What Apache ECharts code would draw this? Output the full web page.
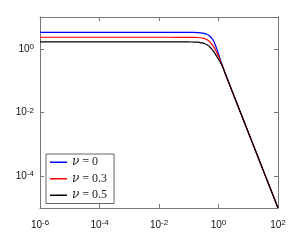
<!DOCTYPE html>
<html><head><meta charset="utf-8">
<script src="https://cdn.jsdelivr.net/npm/echarts@6/dist/echarts.min.js"></script>
<style>html,body{margin:0;padding:0;background:#fff}#c{width:308px;height:241px}</style>
</head><body><div id="c"></div>
<script>
// ---- data ----
const xValues = [1e-6, 1e-3, 0.01, 0.05, 0.1, 0.15, 0.2, 0.25, 0.3, 0.35, 0.4, 0.45, 0.5, 0.6, 0.7, 0.8, 0.9, 1.0, 1.1, 1.2, 1.35, 1.5, 1.75, 2, 3, 5, 10, 20, 50, 100];
const nu0   = [3.3, 3.3, 3.3, 3.295, 3.29, 3.27, 3.24, 3.18, 3.1, 2.99, 2.86, 2.7, 2.52, 2.12, 1.7, 1.25, 0.93, 0.7, 0.53, 0.41, 0.3, 0.229, 0.153, 0.112, 0.0422, 0.0125, 0.0024, 0.000461, 0.000052, 0.00001];
const nu03  = [2.31, 2.31, 2.31, 2.305, 2.3, 2.29, 2.27, 2.23, 2.17, 2.08, 1.95, 1.82, 1.68, 1.4, 1.13, 0.9, 0.72, 0.58, 0.47, 0.385, 0.29, 0.226, 0.152, 0.111, 0.0422, 0.0125, 0.0024, 0.000461, 0.000052, 0.00001];
const nu05  = [1.65, 1.65, 1.65, 1.648, 1.645, 1.635, 1.615, 1.57, 1.52, 1.45, 1.36, 1.26, 1.16, 0.98, 0.8, 0.66, 0.55, 0.47, 0.41, 0.36, 0.28, 0.222, 0.151, 0.111, 0.0422, 0.0125, 0.0024, 0.000461, 0.000052, 0.00001];
const seriesNames = ['ν = 0', 'ν = 0.3', 'ν = 0.5'];
const seriesColors = ['#0000ff', '#ff0000', '#000000'];
const xTickValues = [1e-6, 1e-4, 1e-2, 1, 100];
const xTickExps = ['-6', '-4', '-2', '0', '2'];
const yTickValues = [1e-4, 1e-2, 1];
const yTickExps = ['-4', '-2', '0'];

function pairs(ys) { return xValues.map((x, i) => [x, ys[i]]); }
function labelFor(vals, exps) {
  return function (v) {
    for (let i = 0; i < vals.length; i++) {
      if (Math.abs(Math.log10(v) - Math.log10(vals[i])) < 1e-6) return '{b|10}{s|' + exps[i] + '}';
    }
    return '';
  };
}
const rich = {
  b: { fontSize: 10, lineHeight: 12, fontFamily: 'Liberation Sans', color: '#111' },
  s: { fontSize: 8, lineHeight: 8, padding: [0, 0, 14, 0], verticalAlign: 'top', fontFamily: 'Liberation Sans', color: '#111' }
};
const axisLineStyle = { color: '#777', width: 1 };

const chart = echarts.init(document.getElementById('c'), null, { renderer: 'canvas' });
chart.setOption({
  animation: false,
  backgroundColor: '#fff',
  grid: { left: 40, right: 30, top: 17, bottom: 28 },
  legend: {
    orient: 'vertical', left: 46, top: 154,
    data: seriesNames,
    icon: 'rect', itemWidth: 17, itemHeight: 1.5, itemGap: 2,
    padding: [1, 7, 1, 4],
    borderColor: '#666', borderWidth: 1, backgroundColor: '#fff', borderRadius: 0,
    formatter: function (name) { return '{i|ν}{t|' + name.slice(1) + '}'; },
    textStyle: {
      lineHeight: 14.5,
      rich: {
        i: { fontSize: 12, fontStyle: 'italic', fontFamily: 'DejaVu Serif', color: '#222', lineHeight: 14.5 },
        t: { fontSize: 12, fontFamily: 'Liberation Serif', color: '#222', lineHeight: 14.5 }
      }
    }
  },
  xAxis: [{
    type: 'log', logBase: 10, min: 1e-6, max: 100, position: 'bottom',
    axisLine: { lineStyle: axisLineStyle },
    axisTick: { inside: true, length: 4, lineStyle: axisLineStyle, customValues: xTickValues },
    minorTick: { show: false }, splitLine: { show: false },
    axisLabel: { margin: 11, customValues: xTickValues, formatter: labelFor(xTickValues, xTickExps), rich: rich }
  }, {
    type: 'log', logBase: 10, min: 1e-6, max: 100, position: 'top',
    axisLine: { lineStyle: axisLineStyle },
    axisTick: { inside: true, length: 4, lineStyle: axisLineStyle, customValues: xTickValues },
    splitLine: { show: false }, axisLabel: { show: false }
  }],
  yAxis: [{
    type: 'log', logBase: 10, min: 1e-5, max: 10, position: 'left',
    axisLine: { lineStyle: axisLineStyle },
    axisTick: { inside: true, length: 4, lineStyle: axisLineStyle, customValues: yTickValues },
    splitLine: { show: false },
    axisLabel: { margin: 6, customValues: yTickValues, formatter: labelFor(yTickValues, yTickExps), rich: rich }
  }, {
    type: 'log', logBase: 10, min: 1e-5, max: 10, position: 'right',
    axisLine: { lineStyle: axisLineStyle },
    axisTick: { inside: true, length: 4, lineStyle: axisLineStyle, customValues: yTickValues },
    splitLine: { show: false }, axisLabel: { show: false }
  }],
  series: [nu0, nu03, nu05].map((ys, i) => ({
    name: seriesNames[i], type: 'line', data: pairs(ys),
    showSymbol: false, smooth: 0.2,
    lineStyle: { color: seriesColors[i], width: 1.2 },
    itemStyle: { color: seriesColors[i] }
  }))
});
</script></body></html>
